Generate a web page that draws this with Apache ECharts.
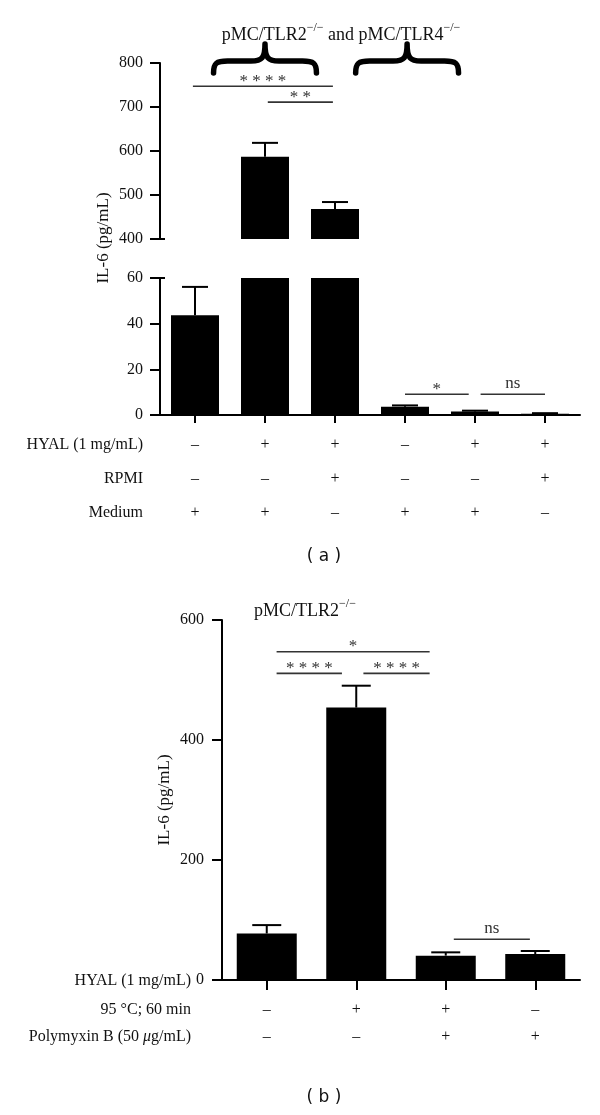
<!DOCTYPE html>
<html><head><meta charset="utf-8">
<script src="https://cdn.jsdelivr.net/npm/echarts@6/dist/echarts.min.js"></script>
<style>html,body{margin:0;padding:0;background:#fff}#c{width:600px;height:1115px}</style>
</head><body><div id="c"></div>
<script>
// ---------- data : panel (a) ----------
const categoriesA = ['1', '2', '3', '4', '5', '6'];
const meansA = [43.7, 587, 468, 3.6, 1.5, 0.6];
const errorsA = [12.4, 31.5, 16, 0.6, 0.4, 0.2];
const hyalA = ['–', '+', '+', '–', '+', '+'];
const rpmiA = ['–', '–', '+', '–', '–', '+'];
const mediumA = ['+', '+', '–', '+', '+', '–'];
const rowLabelsA = ['HYAL (1 mg/mL)', 'RPMI', 'Medium'];
const upperTicksA = [400, 500, 600, 700, 800];
const lowerTicksA = [0, 20, 40, 60];
// significance: [from (category pos), to (category pos), value, label]
const sigUpperA = [[-0.03, 1.97, 747, '****'], [1.04, 1.97, 711, '**']];
const sigLowerA = [[3.0, 3.91, 9.1, '*'], [4.08, 5.0, 9.1, 'ns']];
const braceCentersA = [1, 3.03];
const breakValuesA = [400, 60]; // axis break: bottom of upper segment / top of lower segment

// ---------- data : panel (b) ----------
const categoriesB = ['1', '2', '3', '4'];
const meansB = [77.5, 454, 40.6, 43.3];
const errorsB = [14, 36.5, 5.5, 5];
const heatB = ['–', '+', '+', '–'];
const polyB = ['–', '–', '+', '+'];
const ticksB = [0, 200, 400, 600];
const sigB = [[0.11, 1.82, 547, '*'], [0.11, 0.84, 511, '****'], [1.08, 1.82, 511, '****'], [2.09, 2.94, 67.8, 'ns']];

// ---------- styling ----------
const SERIF = 'Liberation Serif';
const TXT = '#111';

function errorRender(means, errs, capHalf) {
  return function (params, api) {
    const i = params.dataIndex;
    const p0 = api.coord([i, means[i]]);
    const p1 = api.coord([i, means[i] + errs[i]]);
    return {
      type: 'group',
      children: [
        { type: 'line', shape: { x1: p0[0], y1: p0[1], x2: p1[0], y2: p1[1] }, style: { stroke: '#000', lineWidth: 2 } },
        { type: 'line', shape: { x1: p1[0] - capHalf, y1: p1[1], x2: p1[0] + capHalf, y2: p1[1] }, style: { stroke: '#000', lineWidth: 2 } }
      ]
    };
  };
}

function sigRender(list) {
  return function (params, api) {
    const s = list[params.dataIndex];
    const band = api.size([1, 0])[0];
    const base = api.coord([0, s[2]]);
    const x1 = base[0] + s[0] * band;
    const x2 = base[0] + s[1] * band;
    const y = base[1];
    const isStar = s[3].indexOf('*') >= 0;
    return {
      type: 'group',
      children: [
        { type: 'line', shape: { x1: x1, y1: y, x2: x2, y2: y }, style: { stroke: '#333', lineWidth: 1.6 } },
        { type: 'text', style: { text: isStar ? s[3].split('').join(' ') : s[3], x: (x1 + x2) / 2, y: y - (isStar ? 5 : 11),
          align: 'center', verticalAlign: 'middle', fontFamily: SERIF, fontSize: isStar ? 17 : 17, fill: '#333' } }
      ]
    };
  };
}

function braceRender(params, api) {
  const c = braceCentersA[params.dataIndex];
  const band = api.size([1, 0])[0];
  const b = api.coord([0, 800]);
  const top = b[1];
  const xc = b[0] + c * band;
  const hw = 0.735 * band;
  const xl = xc - hw, xr = xc + hw;
  const yEnd = top + 10, yMid = top - 2, yTip = top - 19;
  const r = 14;
  const d = 'M' + xl + ' ' + yEnd +
    ' C' + xl + ' ' + (yMid + 2) + ' ' + (xl + 3) + ' ' + yMid + ' ' + (xl + r) + ' ' + yMid +
    ' L' + (xc - r) + ' ' + yMid +
    ' C' + (xc - 3) + ' ' + yMid + ' ' + xc + ' ' + (yMid - 3) + ' ' + xc + ' ' + yTip +
    ' C' + xc + ' ' + (yMid - 3) + ' ' + (xc + 3) + ' ' + yMid + ' ' + (xc + r) + ' ' + yMid +
    ' L' + (xr - r) + ' ' + yMid +
    ' C' + (xr - 3) + ' ' + yMid + ' ' + xr + ' ' + (yMid + 2) + ' ' + xr + ' ' + yEnd;
  return {
    type: 'path',
    shape: { pathData: d, x: xl, y: yTip, width: xr - xl, height: yEnd - yTip, layout: 'cover' },
    style: { stroke: '#000', fill: null, lineWidth: 5.5, lineCap: 'round', lineJoin: 'round' }
  };
}

function breakRender(value) {
  return function (params, api) {
    const p = api.coord([0, value]);
    const left = p[0] - api.size([1, 0])[0] / 2;
    return { type: 'line', shape: { x1: left - 10, y1: p[1], x2: left + 5, y2: p[1] }, style: { stroke: '#000', lineWidth: 2 } };
  };
}

const axisLineStyle = { show: true, lineStyle: { color: '#000', width: 2 } };
const yTick = { show: true, length: 10, lineStyle: { color: '#000', width: 2 } };
const yLabel = { fontFamily: SERIF, fontSize: 16, color: TXT, margin: 17 };

const chart = echarts.init(document.getElementById('c'), null, { renderer: 'canvas' });

const option = {
  animation: false,
  backgroundColor: '#fff',
  grid: [
    { left: 160, top: 63, width: 420, height: 176, outerBoundsMode: 'none' },
    { left: 160, top: 278, width: 420, height: 137, outerBoundsMode: 'none' },
    { left: 222, top: 620, width: 358, height: 360, outerBoundsMode: 'none' }
  ],
  xAxis: [
    { gridIndex: 0, type: 'category', data: categoriesA, show: false },
    { gridIndex: 1, type: 'category', data: categoriesA,
      axisLine: axisLineStyle,
      axisTick: { show: true, alignWithLabel: true, length: 8, lineStyle: { color: '#000', width: 2 } },
      axisLabel: { margin: 13, lineHeight: 34, fontFamily: SERIF, fontSize: 16, color: TXT,
        formatter: function (v, i) { return hyalA[i] + '\n' + rpmiA[i] + '\n' + mediumA[i]; } } },
    { gridIndex: 2, type: 'category', data: categoriesB,
      axisLine: axisLineStyle,
      axisTick: { show: true, alignWithLabel: true, length: 10, lineStyle: { color: '#000', width: 2 } },
      axisLabel: { margin: 16.5, lineHeight: 27, fontFamily: SERIF, fontSize: 16, color: TXT,
        formatter: function (v, i) { return heatB[i] + '\n' + polyB[i]; } } }
  ],
  yAxis: [
    { gridIndex: 0, type: 'value', min: upperTicksA[0], max: upperTicksA[upperTicksA.length - 1], interval: upperTicksA[1] - upperTicksA[0],
      axisLine: axisLineStyle, axisTick: yTick, axisLabel: yLabel, splitLine: { show: false } },
    { gridIndex: 1, type: 'value', min: lowerTicksA[0], max: lowerTicksA[lowerTicksA.length - 1], interval: lowerTicksA[1] - lowerTicksA[0],
      axisLine: axisLineStyle, axisTick: yTick, axisLabel: yLabel, splitLine: { show: false } },
    { gridIndex: 2, type: 'value', min: ticksB[0], max: ticksB[ticksB.length - 1], interval: ticksB[1] - ticksB[0],
      axisLine: axisLineStyle, axisTick: yTick, axisLabel: Object.assign({}, yLabel, { margin: 18 }), splitLine: { show: false } }
  ],
  series: [
    { type: 'bar', xAxisIndex: 0, yAxisIndex: 0, data: meansA, barWidth: 48, itemStyle: { color: '#000' }, clip: true, silent: true },
    { type: 'bar', xAxisIndex: 1, yAxisIndex: 1, data: meansA, barWidth: 48, itemStyle: { color: '#000' }, clip: true, silent: true },
    { type: 'bar', xAxisIndex: 2, yAxisIndex: 2, data: meansB, barWidth: 60, itemStyle: { color: '#000' }, clip: true, silent: true },
    { type: 'custom', xAxisIndex: 0, yAxisIndex: 0, data: meansA.map(function (m, i) { return [i, m]; }), renderItem: errorRender(meansA, errorsA, 13), clip: true, z: 5, silent: true },
    { type: 'custom', xAxisIndex: 1, yAxisIndex: 1, data: meansA.map(function (m, i) { return [i, m]; }), renderItem: errorRender(meansA, errorsA, 13), clip: true, z: 5, silent: true },
    { type: 'custom', xAxisIndex: 2, yAxisIndex: 2, data: meansB.map(function (m, i) { return [i, m]; }), renderItem: errorRender(meansB, errorsB, 14.5), clip: true, z: 5, silent: true },
    { type: 'custom', xAxisIndex: 0, yAxisIndex: 0, data: sigUpperA.map(function (s, i) { return [i, s[2]]; }), renderItem: sigRender(sigUpperA), clip: false, z: 6, silent: true },
    { type: 'custom', xAxisIndex: 1, yAxisIndex: 1, data: sigLowerA.map(function (s, i) { return [i, s[2]]; }), renderItem: sigRender(sigLowerA), clip: false, z: 6, silent: true },
    { type: 'custom', xAxisIndex: 2, yAxisIndex: 2, data: sigB.map(function (s, i) { return [i, s[2]]; }), renderItem: sigRender(sigB), clip: false, z: 6, silent: true },
    { type: 'custom', xAxisIndex: 0, yAxisIndex: 0, data: braceCentersA.map(function (c, i) { return [i, 800]; }), renderItem: braceRender, clip: false, z: 6, silent: true },
    { type: 'custom', xAxisIndex: 0, yAxisIndex: 0, data: [[0, breakValuesA[0]]], renderItem: breakRender(breakValuesA[0]), clip: false, z: 6, silent: true },
    { type: 'custom', xAxisIndex: 1, yAxisIndex: 1, data: [[0, breakValuesA[1]]], renderItem: breakRender(breakValuesA[1]), clip: false, z: 6, silent: true }
  ],
  graphic: [
    { type: 'text', style: { text: '{n|pMC/TLR2}{s|−/−}{n| and pMC/TLR4}{s|−/−}', x: 341, y: 33, align: 'center', verticalAlign: 'middle',
      rich: { n: { fontFamily: SERIF, fontSize: 18, lineHeight: 22, fill: TXT, verticalAlign: 'bottom' }, s: { fontFamily: SERIF, fontSize: 12, lineHeight: 22, fill: TXT, verticalAlign: 'top' } } } },
    { type: 'text', style: { text: 'IL-6 (pg/mL)', x: 104, y: 238, align: 'center', verticalAlign: 'middle', fontFamily: SERIF, fontSize: 17, fill: TXT }, rotation: Math.PI / 2, originX: 104, originY: 238 },
    { type: 'text', style: { text: rowLabelsA[0], x: 143, y: 445, align: 'right', verticalAlign: 'middle', fontFamily: SERIF, fontSize: 16, fill: TXT } },
    { type: 'text', style: { text: rowLabelsA[1], x: 143, y: 479, align: 'right', verticalAlign: 'middle', fontFamily: SERIF, fontSize: 16, fill: TXT } },
    { type: 'text', style: { text: rowLabelsA[2], x: 143, y: 513, align: 'right', verticalAlign: 'middle', fontFamily: SERIF, fontSize: 16, fill: TXT } },
    { type: 'text', style: { text: '( a )', x: 324, y: 557, align: 'center', verticalAlign: 'middle', fontFamily: 'DejaVu Sans', fontSize: 17, fill: TXT } },

    { type: 'text', style: { text: '{n|pMC/TLR2}{s|−/−}', x: 305, y: 609, align: 'center', verticalAlign: 'middle',
      rich: { n: { fontFamily: SERIF, fontSize: 18, lineHeight: 22, fill: TXT, verticalAlign: 'bottom' }, s: { fontFamily: SERIF, fontSize: 12, lineHeight: 22, fill: TXT, verticalAlign: 'top' } } } },
    { type: 'text', style: { text: 'IL-6 (pg/mL)', x: 165, y: 800, align: 'center', verticalAlign: 'middle', fontFamily: SERIF, fontSize: 17, fill: TXT }, rotation: Math.PI / 2, originX: 165, originY: 800 },
    { type: 'text', style: { text: 'HYAL (1 mg/mL)', x: 191, y: 981, align: 'right', verticalAlign: 'middle', fontFamily: SERIF, fontSize: 16, fill: TXT } },
    { type: 'text', style: { text: '95 °C; 60 min', x: 191, y: 1010, align: 'right', verticalAlign: 'middle', fontFamily: SERIF, fontSize: 16, fill: TXT } },
    { type: 'text', style: { text: '{n|Polymyxin B (50 }{i|μ}{n|g/mL)}', x: 191, y: 1037, align: 'right', verticalAlign: 'middle',
      rich: { n: { fontFamily: SERIF, fontSize: 16, fill: TXT }, i: { fontFamily: SERIF, fontSize: 16, fontStyle: 'italic', fill: TXT } } } },
    { type: 'text', style: { text: '( b )', x: 324, y: 1098, align: 'center', verticalAlign: 'middle', fontFamily: 'DejaVu Sans', fontSize: 17, fill: TXT } }
  ]
};
chart.setOption(option);
</script>
</body></html>
